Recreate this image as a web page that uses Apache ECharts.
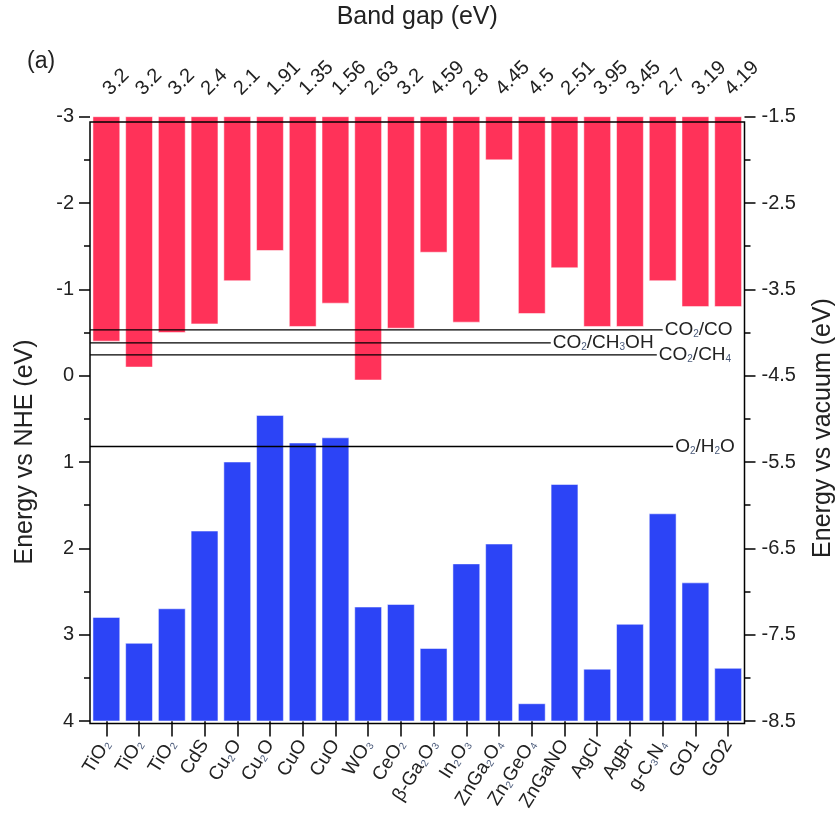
<!DOCTYPE html>
<html>
<head>
<meta charset="utf-8">
<script src="https://cdn.jsdelivr.net/npm/echarts@6/dist/echarts.min.js"></script>
<style>
html,body{margin:0;padding:0;background:#fff;}
#chart{width:839px;height:822px;}
</style>
</head>
<body>
<div id="chart"></div>
<script>
// ---- data ----
const categories = ['TiO_2','TiO_2','TiO_2','CdS','Cu_2O','Cu_2O','CuO','CuO','WO_3','CeO_2','β-Ga_2O_3','In_2O_3','ZnGa_2O_4','Zn_2GeO_4','ZnGaNO','AgCl','AgBr','g-C_3N_4','GO1','GO2'];
const bandGapLabels = ['3.2','3.2','3.2','2.4','2.1','1.91','1.35','1.56','2.63','3.2','4.59','2.8','4.45','4.5','2.51','3.95','3.45','2.7','3.19','4.19'];
const conductionBand = [-0.4,-0.1,-0.5,-0.6,-1.1,-1.45,-0.57,-0.84,0.05,-0.55,-1.43,-0.62,-2.5,-0.72,-1.25,-0.57,-0.57,-1.1,-0.8,-0.8];
const valenceBand = [2.8,3.1,2.7,1.8,1.0,0.46,0.78,0.72,2.68,2.65,3.16,2.18,1.95,3.8,1.26,3.4,2.88,1.6,2.4,3.39];
const refLineNames = ['CO_2/CO','CO_2/CH_3OH','CO_2/CH_4','O_2/H_2O'];
const refLineValues = [-0.53,-0.38,-0.24,0.82];
const refLineEnds = [17.5,14.08,17.32,17.82];
const nheTicks = {min:-3, max:4, step:1};
const vacTicks = {min:-8.5, max:-1.5, step:1};

const RED = '#FF3259';
const BLUE = '#2C44F6';
const FONT = 'Liberation Sans, Arial, sans-serif';
const TXT = '#222';

function rich(s){ return s.replace(/_(\d)/g, '{s|$1}'); }
const subStyle = {s:{fontSize:10, fontFamily:FONT, color:'#4a5a7a', verticalAlign:'bottom', padding:[7,0,0,0]}};

const L = 90, R = 94.5;
const chart = echarts.init(document.getElementById('chart'));

function barRender(base, color){
  return function(params, api){
    const x = api.value(0), v = api.value(1);
    const p0 = api.coord([x, base]);
    const p1 = api.coord([x, v]);
    const w = api.size([1,0])[0]*0.82;
    return {type:'rect', shape:{x:p0[0]-w/2, y:Math.min(p0[1],p1[1]), width:w, height:Math.abs(p1[1]-p0[1])},
      style:{fill:color, stroke:'rgba(255,255,255,0.5)', lineWidth:1}};
  };
}

const option = {
  animation:false,
  backgroundColor:'#fff',
  textStyle:{fontFamily:FONT},
  grid:[
    {left:L, right:R, top:110.5, bottom:98.5, show:true, borderColor:'#000', borderWidth:1.5, backgroundColor:'transparent', z:5},
    {left:L, right:R, top:116.7, bottom:101}
  ],
  xAxis:[
    {type:'category', gridIndex:0, position:'top', data:bandGapLabels,
     axisLine:{show:false}, axisTick:{show:true, alignWithLabel:true, length:10, lineStyle:{color:'#000', width:1.5}},
     axisLabel:{rotate:45, fontSize:20, color:TXT, margin:30, interval:0},
     name:'Band gap (eV)', nameLocation:'middle', nameGap:92, nameTextStyle:{fontSize:25, color:TXT}},
    {type:'category', gridIndex:0, position:'bottom', data:categories,
     axisLine:{show:false}, axisTick:{show:true, alignWithLabel:true, length:13, lineStyle:{color:'#000', width:1.5}},
     axisLabel:{rotate:58, fontSize:19, color:TXT, margin:18, interval:0, formatter:function(v){return rich(v);}, rich:subStyle}},
    {type:'category', gridIndex:1, data:categories, show:false},
    {type:'value', gridIndex:1, min:0, max:20, show:false}
  ],
  yAxis:[
    {type:'value', gridIndex:0, show:false, min:0, max:1},
    {type:'value', gridIndex:1, position:'left', inverse:true, min:nheTicks.min, max:nheTicks.max, interval:nheTicks.step,
     axisLine:{show:false}, splitLine:{show:false},
     axisTick:{show:true, length:11, lineStyle:{color:'#000', width:1.5}},
     minorTick:{show:true, splitNumber:2, length:6, lineStyle:{color:'#000', width:1.5}},
     axisLabel:{fontSize:20, color:TXT, margin:16}},
    {type:'value', gridIndex:1, position:'right', min:vacTicks.min, max:vacTicks.max, interval:vacTicks.step,
     axisLine:{show:false}, splitLine:{show:false},
     axisTick:{show:true, length:11, lineStyle:{color:'#000', width:1.5}},
     minorTick:{show:true, splitNumber:2, length:6, lineStyle:{color:'#000', width:1.5}},
     axisLabel:{fontSize:20, color:TXT, margin:17, formatter:function(v){return v.toFixed(1);}}}
  ],
  series:[
    {type:'custom', xAxisIndex:2, yAxisIndex:1, renderItem:barRender(nheTicks.min, RED),
     data:conductionBand.map(function(v,i){return [i,v];}), z:2},
    {type:'custom', xAxisIndex:2, yAxisIndex:1, renderItem:barRender(nheTicks.max, BLUE),
     data:valenceBand.map(function(v,i){return [i,v];}), z:2}
  ].concat(refLineValues.map(function(v,k){
    return {type:'line', xAxisIndex:3, yAxisIndex:1, symbol:'none', z:4,
      lineStyle:{color:'#000', width:1.3},
      data:[[0,v],[refLineEnds[k],v]],
      endLabel:{show:true, distance:2, fontSize:19, color:TXT, formatter:function(){return rich(refLineNames[k]);}, rich:subStyle}};
  })),
  graphic:[
    {type:'text', left:27, top:50, style:{text:'(a)', fill:TXT, font:'23px '+FONT}},
    {type:'text', x:25, y:452, rotation:Math.PI/2, style:{text:'Energy vs NHE (eV)', fill:TXT, font:'25px '+FONT, textAlign:'center', textVerticalAlign:'middle'}},
    {type:'text', x:823, y:428, rotation:Math.PI/2, style:{text:'Energy vs vacuum (eV)', fill:TXT, font:'25px '+FONT, textAlign:'center', textVerticalAlign:'middle'}}
  ]
};
chart.setOption(option);
</script>
</body>
</html>
